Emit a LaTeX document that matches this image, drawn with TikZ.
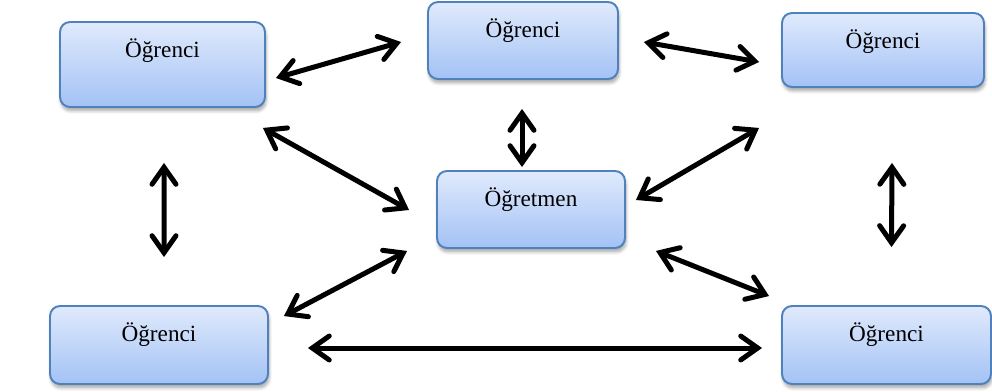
\documentclass[tikz,border=0pt]{standalone}
\usepackage{fontspec}
\setmainfont{Liberation Serif}
\usepackage{tikz}
\usetikzlibrary{arrows.meta, shadows.blur}
\definecolor{boxline}{RGB}{79,129,189}
\definecolor{boxtop}{RGB}{224,234,252}
\definecolor{boxbottom}{RGB}{163,194,245}

\begin{document}
\begin{tikzpicture}[x=0.02cm, y=-0.02cm, <->, >={Straight Barb[length=0.34cm, width=0.48cm, line cap=round]}, every edge/.style={draw, line width=0.1cm}, ogr/.style={draw=boxline, line width=1.1pt, rounded corners=0.2cm, top color=boxtop, bottom color=boxbottom, inner sep=0pt, text height=0.7cm, font=\fontsize{13.2pt}{15pt}\selectfont, blur shadow={shadow xshift=0.6pt, shadow yshift=-2.2pt, shadow blur steps=6, shadow opacity=35}}]
	\useasboundingbox (0,0) rectangle (992,392);
	\node[ogr, minimum width=4.1cm, text depth=1.0cm] (st1) at (162.5,64.5) {Öğrenci};
	\node[ogr, minimum width=3.8cm, text depth=0.84cm] (st2) at (523,40.5) {Öğrenci};
	\node[ogr, minimum width=4.04cm, text depth=0.78cm] (st3) at (883,50) {Öğrenci};
	\node[ogr, minimum width=3.76cm, text depth=0.84cm] (teach) at (531,209.5) {Öğretmen};
	\node[ogr, minimum width=4.36cm, text depth=0.86cm] (st4) at (159,345) {Öğrenci};
	\node[ogr, minimum width=4.18cm, text depth=0.86cm] (st5) at (886.5,345) {Öğrenci};

	\path ([shift={(10,13.5)}]st1.east) edge ([shift={(-26,1.5)}]st2.west)
	         ([shift={(25,1.5)}]st2.east) edge ([shift={(-22,12)}]st3.west)
	         ([shift={(-1,29)}]st2.south) edge ([shift={(-9,-3)}]teach.north)
	         ([shift={(-3,20)}]st1.south east) edge ([shift={(-27,0.5)}]teach.west)
	         ([shift={(-22,40)}]st3.south west) edge ([shift={(10,-9.5)}]teach.east)
	         ([shift={(1.5,55)}]st1.south) edge ([shift={(5,-48)}]st4.north)
	         ([shift={(9,75)}]st3.south) edge ([shift={(5,-58)}]st5.north)
	         ([shift={(-29,2)}]teach.south west) edge ([shift={(15,11)}]st4.north east)
	         ([shift={(30,2)}]teach.south east) edge ([shift={(-12,-9)}]st5.north west)
	         ([shift={(39,3)}]st4.east) edge ([shift={(-19,3)}]st5.west);
\end{tikzpicture}
\end{document}
